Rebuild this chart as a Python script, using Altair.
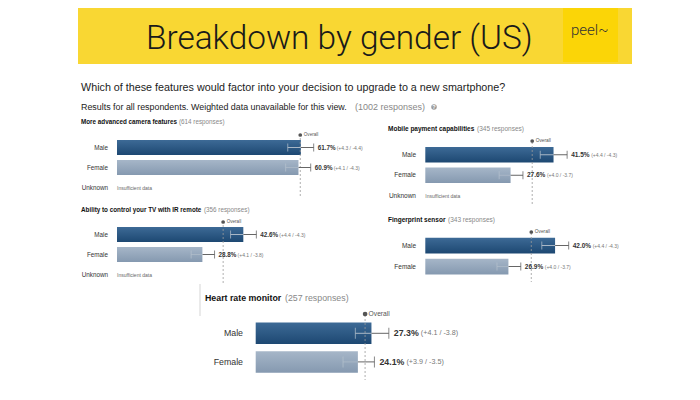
import altair as alt

# ---------- data ----------
heading = "Breakdown by gender (US)"
logo = "peel~"
question = "Which of these features would factor into your decision to upgrade to a new smartphone?"
note_main = "Results for all respondents. Weighted data unavailable for this view."
note_count = "(1002 responses)"

features = [
    "More advanced camera features",
    "Ability to control your TV with IR remote",
    "Mobile payment capabilities",
    "Fingerprint sensor",
    "Heart rate monitor",
]
responses = ["(614 responses)", "(356 responses)", "(345 responses)", "(343 responses)", "(257 responses)"]
male = [61.7, 42.6, 41.5, 42.0, 27.3]
male_plus = [4.3, 4.4, 4.4, 4.4, 4.1]
male_minus = [4.4, 4.3, 4.3, 4.3, 3.8]
female = [60.9, 28.8, 27.6, 26.9, 24.1]
female_plus = [4.1, 4.1, 4.0, 4.0, 3.9]
female_minus = [4.3, 3.8, 3.7, 3.7, 3.5]
overall = [61.5, 35.8, 34.6, 34.3, 25.8]
has_unknown = [True, True, True, False, False]

# ---------- layout (page pixels, the canvas starts 8px in) ----------
M = 8
FONT = "Liberation Sans"
layout = [
    dict(x0=117, k=2.98, top=137.5, step=20, title_y=122, title_gap=98, rule=(138, 197), dot=135, fs=6.3, small=5, ov=4.6, cap=8, dx=4, gap=19, label_x=108),
    dict(x0=117, k=2.965, top=224.5, step=20, title_y=210, title_gap=123, rule=(225, 284), dot=222, fs=6.3, small=5, ov=4.6, cap=8, dx=4, gap=19, label_x=108),
    dict(x0=425.3, k=3.09, top=144.5, step=20.5, title_y=129, title_gap=89, rule=(142, 206), dot=141, fs=6.5, small=5, ov=4.8, cap=8, dx=4, gap=20, label_x=416),
    dict(x0=425.3, k=3.09, top=235, step=21, title_y=220, title_gap=60, rule=(233, 282), dot=232, fs=6.5, small=5, ov=4.8, cap=8, dx=4, gap=20, label_x=416),
    dict(x0=255.7, k=4.24, top=319, step=28.6, title_y=298, title_gap=80, rule=(315, 380), dot=314, fs=8.8, small=7.2, ov=6.7, cap=11, dx=5, gap=27, label_x=243),
]
title_x = [81, 81, 388, 388, 205]

MALE = alt.Gradient(gradient="linear", x1=0, x2=0, y1=0, y2=1,
                    stops=[alt.GradientStop(offset=0, color="#3d6a96"), alt.GradientStop(offset=1, color="#1d4872")])
FEMALE = alt.Gradient(gradient="linear", x1=0, x2=0, y1=0, y2=1,
                      stops=[alt.GradientStop(offset=0, color="#a6b6c8"), alt.GradientStop(offset=1, color="#8599b0")])

EMPTY = alt.Data(values=[{}])


def label(txt, x, y, size, color="#222222", weight="normal", align="left", font=FONT):
    return alt.Chart(EMPTY).mark_text(
        fontSize=size, color=color, fontWeight=weight, align=align, baseline="middle", font=font
    ).encode(x=alt.value(x - M), y=alt.value(y - M), text=alt.value(txt))


def panel(i):
    L = layout[i]
    cats = ["Male", "Female"] + (["Unknown"] if has_unknown[i] else [])
    xs = alt.Scale(domain=[0, 100], range=[L["x0"] - M, L["x0"] - M + 100 * L["k"]])
    ys = alt.Scale(domain=cats, range=[L["top"] - M, L["top"] - M + len(cats) * L["step"]],
                   paddingInner=0.25, paddingOuter=0.125)
    X = lambda f: alt.X(f, type="quantitative", scale=xs, axis=None)
    Y = alt.Y("cat:N", scale=ys, axis=None)
    rows = [
        dict(cat="Male", v=male[i], lo=round(male[i] - male_minus[i], 1), hi=round(male[i] + male_plus[i], 1),
             pct=f"{male[i]:.1f}%", ci=f"(+{male_plus[i]} / -{male_minus[i]})"),
        dict(cat="Female", v=female[i], lo=round(female[i] - female_minus[i], 1), hi=round(female[i] + female_plus[i], 1),
             pct=f"{female[i]:.1f}%", ci=f"(+{female_plus[i]} / -{female_minus[i]})"),
    ]
    d = alt.Data(values=rows)
    dm = alt.Data(values=rows[:1])
    df = alt.Data(values=rows[1:])
    ov = alt.Data(values=[{"o": overall[i]}])
    layers = [
        alt.Chart(dm).mark_bar(color=MALE).encode(x=X("v"), x2=alt.value(L["x0"] - M), y=Y),
        alt.Chart(df).mark_bar(color=FEMALE).encode(x=X("v"), x2=alt.value(L["x0"] - M), y=Y),
        alt.Chart(ov).mark_rule(color="#9a9a9a", strokeDash=[2, 2], strokeWidth=0.8).encode(
            x=X("o"), y=alt.value(L["rule"][0] - M), y2=alt.value(L["rule"][1] - M)),
        alt.Chart(ov).mark_point(filled=True, color="#555555", size=14 if i < 4 else 22, opacity=1).encode(
            x=X("o"), y=alt.value(L["dot"] - M)),
        alt.Chart(ov).mark_text(text="Overall", align="left", baseline="middle", dx=3.5, fontSize=L["ov"],
                                color="#555555", font=FONT).encode(x=X("o"), y=alt.value(L["dot"] - M)),
        alt.Chart(d).mark_rule(color="#666666", strokeWidth=1).encode(x=X("v"), x2="hi:Q", y=Y),
        alt.Chart(d).mark_rule(color="#a9b7c6", strokeWidth=1).encode(x=X("lo"), x2="v:Q", y=Y),
        alt.Chart(d).mark_tick(orient="vertical", size=L["cap"], thickness=1, color="#555555").encode(x=X("hi"), y=Y),
        alt.Chart(d).mark_tick(orient="vertical", size=L["cap"], thickness=1, color="#b7c3cf").encode(x=X("lo"), y=Y),
        alt.Chart(d).mark_text(align="left", baseline="middle", dx=L["dx"], fontSize=L["fs"], fontWeight="bold",
                               color="#333333", font=FONT).encode(x=X("hi"), y=Y, text="pct:N"),
        alt.Chart(d).mark_text(align="left", baseline="middle", dx=L["dx"] + L["gap"], fontSize=L["small"],
                               color="#777777", font=FONT).encode(x=X("hi"), y=Y, text="ci:N"),
        alt.Chart(alt.Data(values=[{"cat": c} for c in cats])).mark_text(
            align="right", baseline="middle", fontSize=L["fs"], color="#333333", font=FONT
        ).encode(x=alt.value(L["label_x"] - M), y=Y, text="cat:N"),
        label(features[i], title_x[i], L["title_y"], L["fs"], weight="bold", color="#111111"),
        label(responses[i], title_x[i] + L["title_gap"], L["title_y"], L["fs"], color="#888888"),
    ]
    if has_unknown[i]:
        layers.append(
            alt.Chart(alt.Data(values=[{"cat": "Unknown", "t": "Insufficient data"}])).mark_text(
                align="left", baseline="middle", fontSize=5, color="#666666", font=FONT
            ).encode(x=alt.value(L["x0"] - M), y=Y, text="t:N")
        )
    return layers


# ---------- page furniture ----------
banner = alt.Chart(EMPTY).mark_rect(color="#F9D733").encode(
    x=alt.value(78 - M), x2=alt.value(632 - M), y=alt.value(0), y2=alt.value(64 - M))
logo_box = alt.Chart(EMPTY).mark_rect(color="#FBD507").encode(
    x=alt.value(563 - M), x2=alt.value(618 - M), y=alt.value(0), y2=alt.value(62 - M))
brace = alt.Chart(EMPTY).mark_rule(color="#d5d5d5", strokeWidth=1).encode(
    x=alt.value(200 - M), y=alt.value(284 - M), y2=alt.value(316 - M))
help_dot = alt.Chart(EMPTY).mark_point(filled=True, color="#999999", size=30, opacity=1).encode(
    x=alt.value(434 - M), y=alt.value(107 - M))

layers = [
    banner, logo_box,
    label(heading, 146, 39, 33.4, color="#1a1a1a", font="Roboto", weight=300),
    label(logo, 571, 30, 15, color="#333333", font="Roboto", weight=300),
    label(question, 81, 87.5, 10.75, color="#1c1c1c"),
    label(note_main, 81, 107, 8.9, color="#222222"),
    label(note_count, 355, 107, 9, color="#888888"),
    help_dot,
    label("?", 434, 107, 5.5, color="#ffffff", align="center", weight="bold"),
    brace,
]
for p in range(5):
    layers += panel(p)

chart = (
    alt.layer(*layers)
    .resolve_scale(x="independent", y="independent")
    .properties(width=684, height=384, padding=0, autosize=alt.AutoSizeParams(type="none"), background="white")
    .configure_view(strokeWidth=0)
)

chart.save("out.html", embed_options={"renderer": "svg", "actions": False})
